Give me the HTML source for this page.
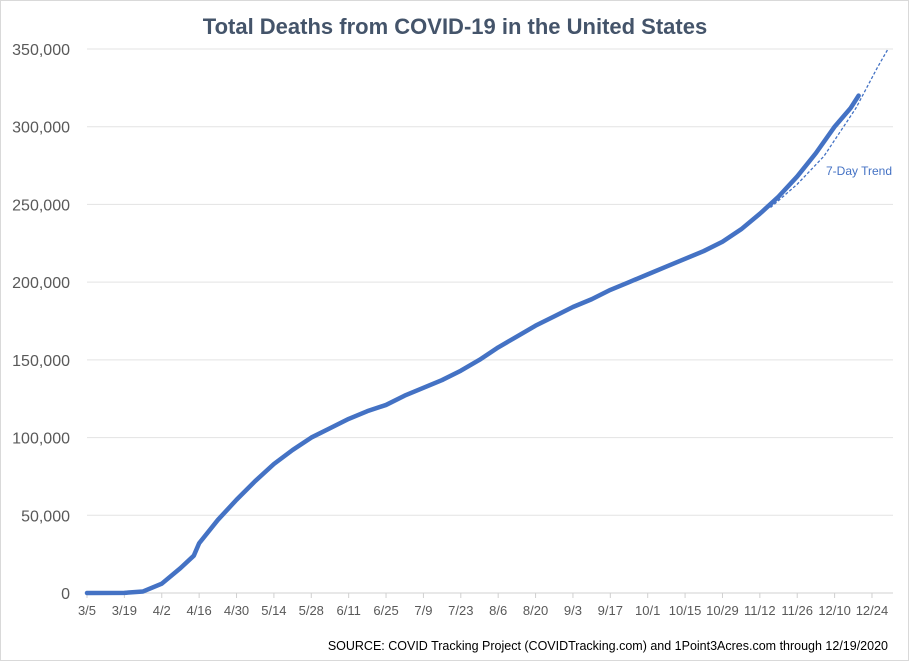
<!DOCTYPE html>
<html><head><meta charset="utf-8"><style>
body{margin:0;background:#fff;}
svg{display:block;font-family:"Liberation Sans",sans-serif;}
</style></head><body>
<svg id="chart" width="910" height="661">
<rect x="0.5" y="0.5" width="908" height="660" fill="#fff" stroke="#d9d9d9"/>
<text x="455" y="34" text-anchor="middle" font-size="22" font-weight="bold" fill="#44546a">Total Deaths from COVID-19 in the United States</text>
<g id="grid"></g><g id="yticks"></g><g id="xticks"></g><g id="series"></g>
<text x="826" y="175" font-size="12" fill="#4472c4">7-Day Trend</text>
<text x="888" y="650" text-anchor="end" font-size="12.5" fill="#000">SOURCE: COVID Tracking Project (COVIDTracking.com) and 1Point3Acres.com through 12/19/2020</text>
</svg>
<script>
const yTicks=[0,50000,100000,150000,200000,250000,300000,350000];
const xLabels=["3/5","3/19","4/2","4/16","4/30","5/14","5/28","6/11","6/25","7/9","7/23","8/6","8/20","9/3","9/17","10/1","10/15","10/29","11/12","11/26","12/10","12/24"];
const days=[0,14,21,28,35,40,42,49,56,63,70,77,84,91,98,105,112,119,126,133,140,147,154,161,168,175,182,189,196,203,210,217,224,231,238,245,252,259,266,273,280,286,289];
const deaths=[0,100,1000,6000,16000,24000,32000,47000,60000,72000,83000,92000,100000,106000,112000,117000,121000,127000,132000,137000,143000,150000,158000,165000,172000,178000,184000,189000,195000,200000,205000,210000,215000,220000,226000,234000,244000,255000,268000,283000,300000,312000,320000];
const trendDays=[256,266,276,288,296,300];
const trendVals=[248000,263000,281000,312000,338000,350000];
const NS="http://www.w3.org/2000/svg";
const X=d=>87+d*2.67;
const Y=v=>593-v/350000*544;
function mk(tag,attrs,parent){const e=document.createElementNS(NS,tag);for(const k in attrs)e.setAttribute(k,attrs[k]);parent.appendChild(e);return e;}
const grid=document.getElementById('grid'),yt=document.getElementById('yticks'),xt=document.getElementById('xticks'),ser=document.getElementById('series');
yTicks.forEach(v=>{
 const l=mk('line',{x1:87,x2:893,y1:Y(v),y2:Y(v),stroke:v===0?'#d0d0d0':'#e3e3e3','stroke-width':1},grid);
 
 
 const t=mk('text',{x:70,y:Y(v)+6,'text-anchor':'end','font-size':16,fill:'#595959'},yt);
 t.textContent=v.toLocaleString('en-US');
 
 
});
xLabels.forEach((s,i)=>{
 const x=X(i*14);
 const k=mk('line',{x1:x,x2:x,y1:593,y2:598,stroke:'#d0d0d0'},xt);
 
 
 const t=mk('text',{x:x,y:615,'text-anchor':'middle','font-size':13,fill:'#595959'},xt);
 t.textContent=s;
 
 
});
const tp=mk('polyline',{points:trendDays.map((d,i)=>X(d)+','+Y(trendVals[i])).join(' '),fill:'none',stroke:'#4472c4','stroke-width':1.3,'stroke-dasharray':'3,2'},ser);


const lp=mk('polyline',{points:days.map((d,i)=>X(d)+','+Y(deaths[i])).join(' '),fill:'none',stroke:'#4472c4','stroke-width':4.5,'stroke-linejoin':'round','stroke-linecap':'round'},ser);


</script>
</body></html>
